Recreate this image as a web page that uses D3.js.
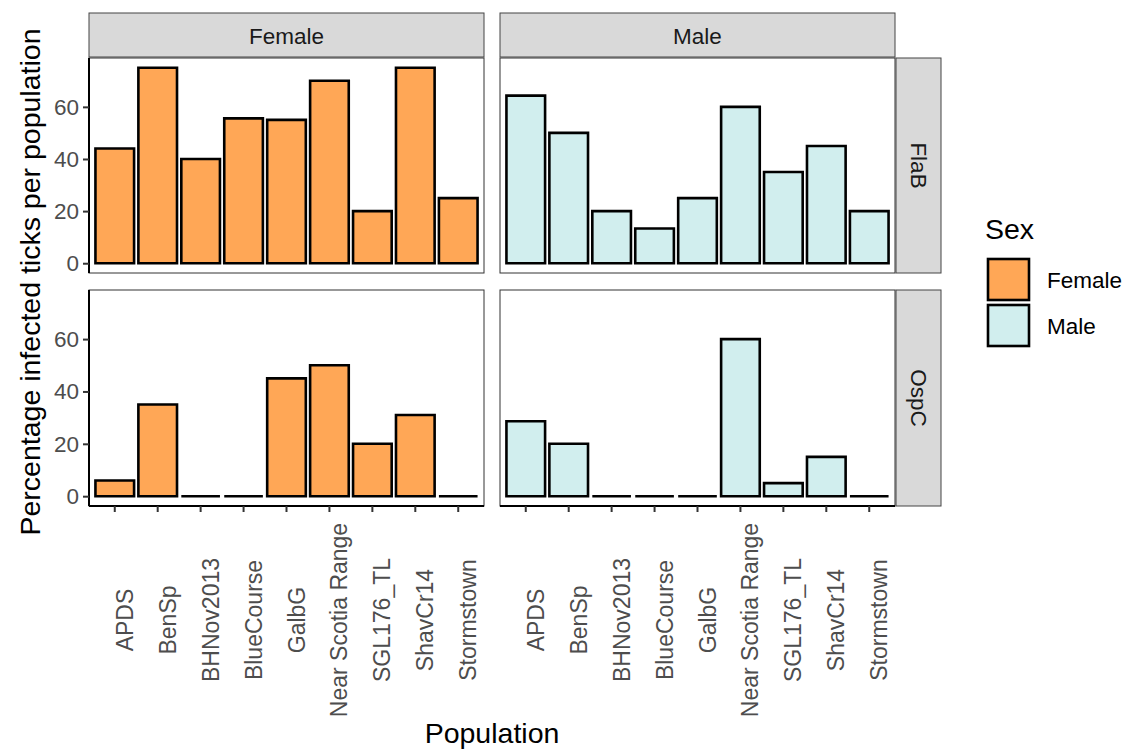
<!DOCTYPE html>
<html>
<head>
<meta charset="utf-8">
<script src="https://cdn.jsdelivr.net/npm/d3@7"></script>
<style>
  body { margin: 0; background: #fff; }
  text { font-family: "Liberation Sans", Arial, Helvetica, sans-serif; }
</style>
</head>
<body>
<div id="container"></div>
<script>
let w = 1129;
let h = 751;

// data
let populations = ["APDS", "BenSp", "BHNov2013", "BlueCourse", "GalbG", "Near Scotia Range", "SGL176_TL", "ShavCr14", "Stormstown"];
let sexes = ["Female", "Male"];
let genes = ["FlaB", "OspC"];
let femaleFlaB = [44, 75, 40, 55.6, 55, 70, 20, 75, 25];
let maleFlaB   = [64.3, 50, 20, 13.3, 25, 60, 35, 45, 20];
let femaleOspC = [6, 35, 0, 0, 45, 50, 20, 31, 0];
let maleOspC   = [28.6, 20, 0, 0, 0, 60, 5, 15, 0];
let yTicks = [0, 20, 40, 60];

let values = {
  Female: { FlaB: femaleFlaB, OspC: femaleOspC },
  Male:   { FlaB: maleFlaB,   OspC: maleOspC }
};
let colors = { Female: "#FFA756", Male: "#D1EEEE" };

let colX = [[89, 484], [500, 895]];
let rowY = [[58, 273], [290, 506]];

let viz = d3.select("#container")
  .append("svg")
    .attr("width", w)
    .attr("height", h)
    .style("background-color", "#fff");

sexes.forEach((sex, ci) => {
  let x = d3.scaleBand()
    .domain(populations)
    .range(colX[ci])
    .paddingInner(0.1)
    .paddingOuter(0.15);

  // column strip
  viz.append("rect")
    .attr("x", colX[ci][0]).attr("y", 13)
    .attr("width", colX[ci][1] - colX[ci][0]).attr("height", 44)
    .attr("fill", "#d9d9d9").attr("stroke", "#444").attr("stroke-width", 1);
  viz.append("text")
    .attr("x", (colX[ci][0] + colX[ci][1]) / 2).attr("y", 36)
    .attr("text-anchor", "middle").attr("dominant-baseline", "central")
    .attr("font-size", 22.5).attr("fill", "#1a1a1a")
    .text(sex);

  genes.forEach((gene, ri) => {
    let y = d3.scaleLinear()
      .domain([-3.75, 78.75])
      .range([rowY[ri][1], rowY[ri][0]]);

    let panel = viz.append("g");
    panel.append("rect")
      .attr("x", colX[ci][0]).attr("y", rowY[ri][0])
      .attr("width", colX[ci][1] - colX[ci][0]).attr("height", rowY[ri][1] - rowY[ri][0])
      .attr("fill", "#fff").attr("stroke", "#333").attr("stroke-width", 1);

    let data = populations.map((p, i) => ({ pop: p, val: values[sex][gene][i] }));
    // paths so that zero-height bars still show their outline
    panel.selectAll(".bar").data(data).enter()
      .append("path")
        .attr("class", "bar")
        .attr("d", d => {
          let x0 = x(d.pop), x1 = x0 + x.bandwidth();
          let y0 = y(0), y1 = y(d.val);
          return `M${x0},${y0}H${x1}V${y1}H${x0}Z`;
        })
        .attr("fill", colors[sex])
        .attr("stroke", "#000")
        .attr("stroke-width", 2.6)
        .attr("stroke-linejoin", "miter");

    if (ci == 0) {
      let ya = viz.append("g")
        .attr("transform", `translate(${colX[0][0]},0)`)
        .call(d3.axisLeft(y).tickValues(yTicks).tickSize(6).tickPadding(4));
      ya.select(".domain").attr("stroke", "#000").attr("stroke-width", 2)
        .attr("d", `M0,${rowY[ri][0]}V${rowY[ri][1]}`);
      ya.selectAll(".tick line").attr("stroke", "#333").attr("stroke-width", 2);
      ya.selectAll(".tick text").attr("font-size", 22.5).attr("fill", "#4d4d4d")
        .attr("font-family", "Liberation Sans, Arial, sans-serif");
    }

    if (ri == 1) {
      let xa = viz.append("g")
        .attr("transform", `translate(0,${rowY[1][1]})`)
        .call(d3.axisBottom(x).tickSize(6));
      xa.select(".domain").attr("stroke", "#000").attr("stroke-width", 2)
        .attr("d", `M${colX[ci][0]},0H${colX[ci][1]}`);
      xa.selectAll(".tick line").attr("stroke", "#333").attr("stroke-width", 2);
      xa.selectAll(".tick text")
        .attr("font-size", 23).attr("fill", "#4d4d4d")
        .attr("font-family", "Liberation Sans, Arial, sans-serif")
        .attr("text-anchor", "middle")
        .attr("dominant-baseline", "central")
        .attr("dy", null)
        .attr("y", 0)
        .attr("transform", "translate(10,114) rotate(-90)");
    }

    // row strip
    if (ci == 1) {
      viz.append("rect")
        .attr("x", 896).attr("y", rowY[ri][0])
        .attr("width", 45).attr("height", rowY[ri][1] - rowY[ri][0])
        .attr("fill", "#d9d9d9").attr("stroke", "#444").attr("stroke-width", 1);
      let cy = (rowY[ri][0] + rowY[ri][1]) / 2;
      viz.append("text")
        .attr("transform", `translate(918.5,${cy}) rotate(90)`)
        .attr("text-anchor", "middle").attr("dominant-baseline", "central")
        .attr("font-size", 22.5).attr("fill", "#1a1a1a")
        .text(gene);
    }
  });
});

// axis titles
viz.append("text")
  .attr("x", 492).attr("y", 743)
  .attr("text-anchor", "middle")
  .attr("font-size", 28.5).attr("fill", "#000")
  .text("Population");
viz.append("text")
  .attr("transform", "translate(40,282) rotate(-90)")
  .attr("text-anchor", "middle")
  .attr("font-size", 28.5).attr("fill", "#000")
  .text("Percentage infected ticks per population");

// legend
let legend = viz.append("g");
legend.append("text")
  .attr("x", 985).attr("y", 239)
  .attr("font-size", 28.5).attr("fill", "#000")
  .text("Sex");
let keys = legend.selectAll(".key").data(sexes).enter()
  .append("g").attr("class", "key")
  .attr("transform", (d, i) => `translate(988,${259 + i * 46})`);
keys.append("rect")
  .attr("width", 41).attr("height", 41)
  .attr("fill", d => colors[d])
  .attr("stroke", "#000").attr("stroke-width", 2.6);
keys.append("text")
  .attr("x", 59).attr("y", 21)
  .attr("dominant-baseline", "central")
  .attr("font-size", 22.5).attr("fill", "#000")
  .text(d => d);
</script>
</body>
</html>
